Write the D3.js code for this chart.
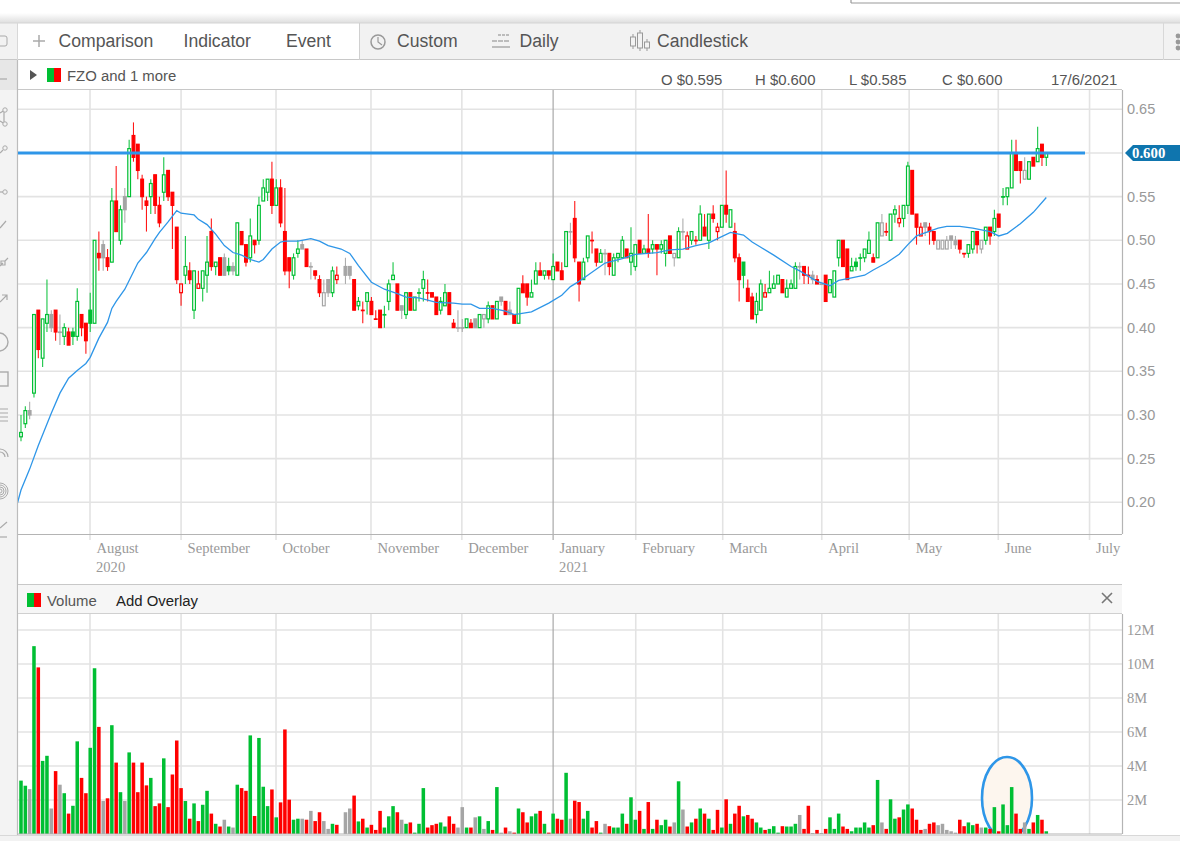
<!DOCTYPE html>
<html>
<head>
<meta charset="utf-8">
<script src="https://cdn.jsdelivr.net/npm/d3@7"></script>
<style>
body { margin: 0; background: #fff; }
svg { display: block; }
text { font-family: "Liberation Sans", Arial, sans-serif; }
.serif text, text.serif { font-family: "Liberation Serif", "Times New Roman", serif; }
</style>
</head>
<body>
<svg id="chart" width="1180" height="841"></svg>
<script>
// one letter per trading day: g = up on prior close, r = down, n = unchanged
var trend = "ggngrggnrn" + "grggrrggrn" + "rgrgngrrrr" + "grrgrrrrgr" + "grggrgrngn" + "grrgrgggrg" +
    "rrrggnrnrr" + "nngrnnnrgr" + "grrrgggrng" + "rgggrrrggr" + "rnngrngngr" + "gnrnrgrrgg" +
    "rgrgrrgnrr" + "ggrrgnrggg" + "rggrgrgrgg" + "rngnrgrgrg" + "rrgrgrrgrr" + "ggrgggrggg" +
    "nrrnrnrggg" + "rrgggggrgn" + "rggrggrrrn" + "rrnnnnnrrg" + "grngrgrggg" + "rrngrgrg";

var opens = [
    .275,.29,.305,.325,.42,.365,.405,.415,.42,.395, .39,.395,.395,.39,.415,.405,.42,.405,.485,.495,
    .48,.475,.545,.50,.55,.55,.62,.61,.57,.545, .55,.575,.54,.555,.58,.555,.515,.44,.46,.465,
    .42,.445,.445,.46,.51,.47,.48,.48,.47,.47, .46,.51,.495,.48,.50,.50,.545,.555,.57,.54,
    .56,.51,.48,.46,.485,.495,.49,.47,.465,.455, .425,.455,.44,.455,.46,.47,.47,.455,.425,.42,
    .43,.43,.41,.42,.415,.43,.455,.45,.425,.415, .44,.42,.44,.445,.44,.44,.435,.42,.425,.44,
    .405,.40,.40,.40,.405,.41,.40,.41,.41,.425, .41,.435,.43,.42,.415,.405,.45,.45,.435,.45,
    .465,.46,.465,.455,.475,.465,.47,.51,.525,.475, .455,.48,.50,.49,.475,.485,.485,.46,.48,.48,
    .49,.475,.47,.50,.485,.49,.49,.495,.49,.485, .505,.48,.48,.51,.49,.50,.50,.50,.515,.50,
    .53,.51,.515,.54,.515,.51,.48,.475,.445,.435, .415,.42,.435,.44,.445,.45,.455,.435,.445,.445,
    .47,.47,.46,.46,.455,.45,.46,.44,.435,.48, .50,.49,.465,.475,.48,.48,.485,.48,.48,.505,
    .51,.50,.53,.52,.525,.54,.58,.53,.505,.52, .515,.51,.49,.49,.49,.505,.50,.50,.485,.485,
    .49,.51,.49,.50,.515,.51,.53,.55,.55,.56, .60,.59,.57,.57,.595,.59,.61,.595
];
var highs = [
    .30,.31,.315,.415,.42,.41,.455,.42,.42,.415, .405,.40,.40,.445,.415,.405,.44,.50,.51,.50,
    .49,.56,.585,.54,.56,.615,.635,.61,.575,.55, .57,.575,.55,.595,.58,.555,.515,.45,.505,.475,
    .465,.465,.465,.505,.525,.475,.48,.485,.48,.475, .52,.51,.495,.525,.50,.55,.57,.57,.59,.57,
    .57,.56,.48,.485,.50,.50,.49,.475,.465,.46, .455,.455,.47,.47,.46,.48,.47,.455,.435,.43,
    .44,.435,.42,.42,.425,.455,.475,.45,.425,.44, .44,.435,.445,.465,.455,.44,.435,.435,.45,.44,
    .41,.42,.41,.41,.41,.41,.415,.415,.43,.425, .43,.435,.43,.43,.415,.445,.46,.45,.455,.475,
    .475,.465,.465,.485,.475,.475,.51,.52,.545,.475, .48,.505,.51,.49,.49,.49,.485,.485,.485,.505,
    .49,.515,.495,.50,.495,.53,.50,.495,.50,.50, .505,.485,.515,.525,.51,.51,.505,.54,.53,.53,
    .54,.52,.54,.58,.535,.52,.485,.475,.455,.44, .44,.455,.45,.465,.46,.46,.455,.455,.455,.475,
    .475,.47,.47,.465,.46,.45,.46,.455,.465,.50, .50,.49,.48,.48,.485,.49,.51,.485,.52,.53,
    .52,.53,.54,.54,.54,.59,.58,.53,.52,.52, .52,.51,.50,.50,.505,.505,.505,.50,.485,.495,
    .51,.51,.50,.515,.515,.535,.53,.56,.56,.615, .615,.59,.595,.59,.595,.63,.61,.60
];
var lows = [
    .27,.285,.295,.32,.365,.355,.395,.395,.385,.38, .38,.38,.38,.385,.39,.37,.395,.405,.465,.465,
    .465,.475,.51,.495,.52,.55,.59,.57,.535,.51, .53,.53,.515,.545,.545,.49,.45,.425,.45,.45,
    .41,.445,.43,.44,.465,.46,.46,.46,.46,.46, .46,.495,.47,.475,.485,.495,.545,.545,.53,.54,
    .515,.46,.445,.455,.48,.49,.47,.455,.455,.435, .425,.435,.435,.45,.46,.45,.455,.42,.42,.405,
    .415,.415,.41,.40,.40,.42,.455,.42,.41,.41, .42,.42,.43,.43,.43,.435,.415,.415,.425,.415,
    .40,.395,.395,.40,.40,.40,.40,.40,.405,.41, .41,.425,.415,.415,.405,.405,.44,.425,.435,.45,
    .46,.455,.455,.455,.465,.455,.47,.495,.475,.43, .455,.475,.485,.47,.475,.46,.46,.46,.475,.48,
    .48,.46,.465,.485,.485,.48,.485,.46,.485,.47, .485,.47,.48,.50,.49,.495,.495,.50,.505,.49,
    .52,.50,.515,.52,.515,.475,.43,.445,.43,.41, .405,.42,.435,.44,.445,.45,.44,.435,.445,.445,
    .455,.45,.45,.45,.45,.45,.43,.44,.435,.47, .47,.455,.465,.465,.465,.475,.485,.475,.48,.505,
    .505,.50,.52,.515,.515,.53,.53,.495,.505,.505, .495,.495,.49,.49,.49,.49,.49,.485,.48,.48,
    .485,.485,.485,.495,.495,.505,.515,.54,.54,.56, .58,.565,.57,.57,.585,.59,.585,.585
];
var closes = [
    .28,.305,.30,.415,.375,.41,.415,.40,.395,.395, .40,.38,.39,.43,.40,.385,.405,.50,.48,.48,
    .47,.545,.51,.535,.535,.605,.595,.58,.55,.54, .565,.54,.52,.575,.55,.54,.455,.45,.47,.455,
    .465,.45,.465,.475,.47,.475,.46,.46,.465,.465, .52,.495,.475,.505,.495,.54,.56,.57,.54,.56,
    .52,.465,.465,.48,.49,.49,.47,.47,.46,.44, .44,.44,.465,.46,.46,.46,.46,.42,.43,.42,
    .44,.415,.41,.40,.415,.45,.46,.42,.42,.44, .42,.435,.44,.455,.44,.435,.415,.43,.44,.415,
    .40,.40,.40,.41,.40,.40,.415,.415,.425,.41, .43,.43,.415,.415,.405,.445,.44,.435,.44,.465,
    .46,.465,.46,.47,.465,.455,.51,.51,.48,.45, .475,.505,.50,.475,.485,.485,.47,.48,.485,.50,
    .48,.485,.495,.485,.49,.485,.495,.49,.495,.50, .485,.485,.51,.51,.505,.51,.50,.53,.505,.53,
    .525,.515,.54,.53,.535,.48,.455,.46,.43,.41, .43,.45,.44,.445,.45,.46,.44,.445,.45,.47,
    .47,.46,.46,.455,.45,.45,.43,.455,.465,.50, .47,.455,.47,.47,.48,.49,.50,.475,.52,.52,
    .51,.53,.535,.525,.54,.585,.53,.515,.515,.515, .51,.50,.50,.50,.50,.50,.495,.49,.485,.495,
    .51,.495,.50,.515,.505,.525,.515,.55,.56,.60, .58,.58,.58,.59,.585,.605,.595,.60
];
// volume in millions of shares
var volumes = [
    3.14,2.84,2.64,11.05,9.8,4.3,4.6,1.5,3.7,2.9, 2.4,1.2,1.66,5.45,3.3,2.4,5.07,9.75,6.3,1.94,
    2.1,6.4,4.2,2.46,1.94,4.8,4.2,2.46,4.2,2.86, 3.3,1.64,1.8,4.45,1.58,3.5,5.5,2.7,1.94,.9,
    1.8,.76,1.72,2.54,1.2,.6,.44,.84,.44,.38, 2.9,2.7,2.54,5.8,1.06,5.65,2.78,1.64,2.62,.98,
    1.86,6.15,2.02,.84,.9,.9,.84,1.36,.76,1.28, .76,.3,.6,.54,0,1.28,1.5,2.26,.74,.9,
    .38,.54,.24,1.36,.38,1.04,1.64,1.28,.84,.6, .68,.08,.6,2.7,.38,.52,.6,.68,.44,1.04,
    .6,.38,1.58,.38,.38,.98,1.04,.3,.76,.24, 2.76,.08,.38,.16,.08,1.5,1.28,.68,1.04,1.2,
    1.36,.6,.08,1.2,.9,.84,3.6,.9,1.96,1.88, .9,1.36,.38,.76,.08,.6,.46,.38,.38,1.2,
    .6,2.16,.84,1.36,.3,1.88,.3,.84,.52,.84, .44,.68,3.1,1.44,.44,.68,.9,1.5,1.2,.9,
    .24,1.42,.38,2.04,.6,1.2,1.66,1.04,1.12,.9, .68,.38,.24,.3,.46,.08,.46,.44,.44,.6,
    1.12,.3,1.66,.06,.24,.06,.3,.98,.3,1.2, .44,.3,.16,.38,.38,.68,.38,.52,3.18,.68,
    .3,2.04,.9,.98,1.44,1.74,1.5,.84,.24,.3, .6,.68,.52,.6,.24,.16,.08,.84,.46,.68,
    .52,.6,.38,.38,.3,1.58,.16,1.74,.52,2.76, 1.2,.3,.68,.3,.68,1.12,.84,.16
];

// moving average at these candles
var avgIndex = [-1,0,2,4,7,9,11,13,15,16,18,20,21,22,24,25,27,29,31,32,34,36,37,40,41,43,45,47,49,51,53,55,56,58,60,61,64,67,69,71,74,76,78,81,84,87,89,92,96,100,102,104,106,109,112,114,118,122,125,127,129,131,135,139,142,147,150,153,156,159,161,164,167,169,171,174,178,180,184,187,189,192,195,197,200,203,205,207,212,214,217,220,224,226,228,231,234,237];
var avgValue = [.196,.214,.238,.265,.302,.325,.342,.351,.359,.366,.388,.406,.422,.430,.444,.454,.474,.486,.502,.509,.521,.534,.531,.529,.524,.518,.507,.494,.486,.483,.478,.475,.478,.490,.498,.499,.499,.502,.499,.494,.490,.485,.471,.452,.444,.439,.435,.434,.429,.428,.427,.427,.422,.422,.419,.415,.418,.428,.437,.447,.453,.460,.474,.479,.484,.486,.489,.490,.494,.497,.502,.509,.506,.498,.492,.483,.470,.465,.453,.448,.454,.457,.460,.466,.474,.484,.495,.505,.514,.516,.516,.514,.510,.505,.508,.519,.532,.549];

var monthNames = ["August","September","October","November","December","January","February","March","April","May","June","July"];
var monthIndex = [15.95,37,58.95,80.9,101.9,123,142.1,162.2,185.1,205.3,225.9,247];
var yearLabels = {August: "2020", January: "2021"};
var priceTicks = [.20,.25,.30,.35,.40,.45,.50,.55,.60,.65];
var volumeTicks = [2,4,6,8,10,12];
var level = 0.6;

var colors = {g: "#00bf33", r: "#ff0000", n: "#a5a5a5"};
var blue = "#2e96e8";

var candles = d3.range(closes.length).map(function(i) {
    return {i: i, o: opens[i], h: highs[i], l: lows[i], c: closes[i], v: volumes[i], t: trend[i]};
}).filter(function(d) { return d.v > 0; });

var svg = d3.select("#chart");
var left = 18, right = 1122;

var x = d3.scaleLinear().domain([0, 237]).range([21, 1046.3]);
var y = d3.scaleLinear().domain([.20, .65]).range([502.3, 109.3]);
var yVol = d3.scaleLinear().domain([0, 12]).range([834, 630]);

// page chrome behind the chart
function box(bx, by, w, h, fill) {
    return svg.append("rect").attr("x", bx).attr("y", by).attr("width", w).attr("height", h).attr("fill", fill);
}
function hline(x1, x2, yy, color, w) {
    return svg.append("line").attr("x1", x1).attr("x2", x2).attr("y1", yy).attr("y2", yy)
        .attr("stroke", color).attr("stroke-width", w || 1);
}
function vline(xx, y1, y2, color, w) {
    return svg.append("line").attr("x1", xx).attr("x2", xx).attr("y1", y1).attr("y2", y2)
        .attr("stroke", color).attr("stroke-width", w || 1);
}
function label(tx, ty, s, size, color) {
    return svg.append("text").attr("x", tx).attr("y", ty).attr("font-size", size).attr("fill", color || "#555").text(s);
}

var shadow = svg.append("defs").append("linearGradient").attr("id", "shade")
    .attr("x1", 0).attr("x2", 0).attr("y1", 0).attr("y2", 1);
shadow.append("stop").attr("offset", 0).attr("stop-color", "#fff");
shadow.append("stop").attr("offset", 1).attr("stop-color", "#dedede");
box(0, 13, 1180, 10, "url(#shade)");
hline(851, 1180, 3, "#999", 1.2);
vline(851, 0, 3, "#999", 1.2);

box(0, 23, 1180, 37, "#f2f2f2");
box(18, 23, 341, 37, "#fff");
hline(0, 1180, 23, "#d4d4d4");
hline(0, 1180, 59.5, "#c8c8c8");
vline(359.5, 23, 60, "#d0d0d0");
vline(1163.5, 23, 60, "#d8d8d8");
vline(17.5, 23, 60, "#d8d8d8");

box(0, 60, 17, 775, "#f3f3f3");
box(0, 60, 17, 30, "#e7e7e7");
box(0, 835, 1180, 6, "#f2f2f2");
hline(0, 1180, 835.5, "#d8d8d8", 1);

label(58.5, 47, "Comparison", 17.6);
label(183.5, 47, "Indicator", 17.6);
label(286, 47, "Event", 17.6);
label(397, 47, "Custom", 17.6);
label(519.5, 47, "Daily", 17.6);
label(657, 47, "Candlestick", 17.6);

// toolbar icons
hline(33, 45, 41, "#aaa", 1.5);
vline(39, 35, 47, "#aaa", 1.5);
svg.append("circle").attr("cx", 378).attr("cy", 42).attr("r", 7).attr("fill", "none").attr("stroke", "#999").attr("stroke-width", 1.5);
svg.append("path").attr("d", "M378 37V42L382 45").attr("fill", "none").attr("stroke", "#999").attr("stroke-width", 1.2);
hline(498, 510, 35, "#aaa", 1.5).attr("stroke-dasharray", "3 1");
hline(492, 510, 41, "#aaa", 1.5).attr("stroke-dasharray", "5 1");
hline(492, 510, 47, "#aaa", 1.5);
[[633, 37, 9], [640, 33, 15], [647, 42, 6]].forEach(function(b) {
    vline(b[0], b[1] - 3, b[1] + b[2] + 3, "#999");
    svg.append("rect").attr("x", b[0] - 2.5).attr("y", b[1]).attr("width", 5).attr("height", b[2])
        .attr("fill", "#f2f2f2").attr("stroke", "#999");
});
[36, 42, 48].forEach(function(cy) {
    svg.append("circle").attr("cx", 1178).attr("cy", cy).attr("r", 2.4).attr("fill", "#999");
});
svg.append("rect").attr("x", -4).attr("y", 36).attr("width", 11).attr("height", 10).attr("rx", 2)
    .attr("fill", "none").attr("stroke", "#aaa");

// sidebar icons, cut off at the left edge like the screenshot
var sideStroke = "#aaa";
function sidePath(d) { svg.append("path").attr("d", d).attr("fill", "none").attr("stroke", sideStroke).attr("stroke-width", 1.2); }
sidePath("M0 79H7");
sidePath("M0 113L5 110M0 121L5 124M4 112V122");
svg.append("circle").attr("cx", 5).attr("cy", 110).attr("r", 2.2).attr("fill", "#f3f3f3").attr("stroke", sideStroke);
svg.append("circle").attr("cx", 5).attr("cy", 124).attr("r", 2.2).attr("fill", "#f3f3f3").attr("stroke", sideStroke);
svg.append("circle").attr("cx", 5).attr("cy", 148).attr("r", 2.2).attr("fill", "#f3f3f3").attr("stroke", sideStroke);
sidePath("M0 153L3 150");
svg.append("circle").attr("cx", 5).attr("cy", 192).attr("r", 2.2).attr("fill", "#f3f3f3").attr("stroke", sideStroke);
sidePath("M0 192H3");
sidePath("M0 228L6 221");
sidePath("M0 266L3 263M1 261h4v4h-4zM5 261L8 258");
sidePath("M0 302L7 295M2 295H7V300");
svg.append("circle").attr("cx", -1).attr("cy", 342).attr("r", 9).attr("fill", "none").attr("stroke", sideStroke).attr("stroke-width", 1.4);
svg.append("rect").attr("x", -3).attr("y", 372).attr("width", 11).attr("height", 14).attr("fill", "none").attr("stroke", sideStroke).attr("stroke-width", 1.4);
sidePath("M0 409H8M0 413H8M0 417H8M0 421H8");
sidePath("M0 449A8 8 0 0 1 8 457M0 452A5 5 0 0 1 5 457");
[8, 6, 4, 2].forEach(function(r) {
    svg.append("circle").attr("cx", 0).attr("cy", 491).attr("r", r).attr("fill", "none").attr("stroke", sideStroke);
});
sidePath("M0 528L7 522");
sidePath("M0 537H7");

// header strip above the chart
hline(18, right, 89.5, "#c8c8c8");
svg.append("path").attr("d", "M30 70L37 75L30 80Z").attr("fill", "#555");
box(47, 68, 7, 14, colors.g);
box(54, 68, 7, 14, colors.r);
label(67, 81, "FZO and 1 more", 14.9);
label(661, 85, "O $0.595", 14.9);
label(755, 85, "H $0.600", 14.9);
label(849, 85, "L $0.585", 14.9);
label(942, 85, "C $0.600", 14.9);
label(1051, 85, "17/6/2021", 14.9);

// price pane grid
var gridColor = "#e3e3e3";
svg.append("g").selectAll("line").data(priceTicks).join("line")
    .attr("x1", left).attr("x2", right).attr("y1", y).attr("y2", y)
    .attr("stroke", gridColor).attr("stroke-width", 1.6);
svg.append("g").selectAll("line").data(monthIndex).join("line")
    .attr("x1", x).attr("x2", x).attr("y1", 90).attr("y2", 540)
    .attr("stroke", function(d) { return d === 123 ? "#a9a9a9" : gridColor; })
    .attr("stroke-width", function(d) { return d === 123 ? 1.2 : 1.6; });

// right hand price axis, the tag below takes the place of the 0.60 label
var priceAxis = svg.append("g").attr("transform", "translate(" + right + ",0)")
    .call(d3.axisRight(y).tickValues(priceTicks.filter(function(d) { return d !== level; }))
        .tickFormat(d3.format(".2f")).tickSize(0).tickPadding(5));
priceAxis.select(".domain").remove();
priceAxis.selectAll("text").attr("font-size", 14.5).attr("fill", "#999").attr("font-family", "Liberation Sans");

// month axis
var monthAxis = svg.append("g").attr("class", "serif").attr("transform", "translate(0,534)")
    .call(d3.axisBottom(x).tickValues(monthIndex)
        .tickFormat(function(d) { return monthNames[monthIndex.indexOf(d)]; }).tickSize(0).tickPadding(9));
monthAxis.select(".domain").remove();
monthAxis.selectAll("text").attr("font-size", 14.6).attr("fill", "#999").attr("text-anchor", "start").attr("dx", 6);
monthNames.forEach(function(m, i) {
    if (yearLabels[m]) {
        svg.append("text").attr("class", "serif").attr("x", x(monthIndex[i]) + 6).attr("y", 572)
            .attr("font-size", 14.6).attr("fill", "#999").text(yearLabels[m]);
    }
});
hline(left, right, 534.5, "#b4b4b4", 1.2);
vline(right + .5, 90, 534, "#b4b4b4", 1.2);
vline(17.5, 60, 835, "#bcbcbc", 1.2);

// moving average over the candles
var avgLine = d3.line()
    .x(function(d, i) { return x(avgIndex[i]); })
    .y(function(d) { return y(d); });
svg.append("clipPath").attr("id", "plotClip").append("rect")
    .attr("x", left).attr("y", 90).attr("width", right - left).attr("height", 444);

// candles
var bodyW = x(1) - x(0) - 1.6;
var plot = svg.append("g").attr("clip-path", "url(#plotClip)");
plot.selectAll(".wick").data(candles).join("line").attr("class", "wick")
    .attr("x1", function(d) { return x(d.i); }).attr("x2", function(d) { return x(d.i); })
    .attr("y1", function(d) { return y(d.h); }).attr("y2", function(d) { return y(d.l); })
    .attr("stroke", function(d) { return colors[d.t]; }).attr("stroke-width", 1.1).attr("opacity", .9);
plot.selectAll(".body").data(candles).join("rect").attr("class", "body")
    .attr("x", function(d) { return x(d.i) - bodyW / 2; })
    .attr("width", bodyW)
    .attr("y", function(d) { return y(Math.max(d.o, d.c)); })
    .attr("height", function(d) { return Math.max(.5, Math.abs(y(d.o) - y(d.c))); })
    .attr("fill", function(d) { return d.c > d.o ? "#fff" : colors[d.t]; })
    .attr("stroke", function(d) { return colors[d.t]; })
    .attr("stroke-width", 1.2);

plot.append("path").datum(avgValue).attr("d", avgLine)
    .attr("fill", "none").attr("stroke", blue).attr("stroke-width", 1.3);

// horizontal line drawn at the last price
var levelY = y(level);
hline(left, 1085, levelY, blue, 3);
svg.append("path")
    .attr("d", "M1125 " + levelY + "L1133 " + (levelY - 8) + "H1180V" + (levelY + 8) + "H1133Z")
    .attr("fill", "#0f75ae");
svg.append("text").attr("class", "serif").attr("x", 1132).attr("y", levelY + 5)
    .attr("font-size", 14.8).attr("font-weight", "bold").attr("fill", "#fff").text(d3.format(".3f")(level));

// volume pane
hline(left, right, 584.5, "#c8c8c8");
box(18, 585, right - 18, 28, "#f6f6f6");
hline(left, right, 613.5, "#d0d0d0");
box(27, 593, 7, 14, colors.g);
box(34, 593, 7, 14, colors.r);
label(47, 606, "Volume", 14.9);
label(116, 606, "Add Overlay", 14.9, "#222");
svg.append("path").attr("d", "M1102 593L1112 603M1112 593L1102 603").attr("stroke", "#777").attr("stroke-width", 1.6);

svg.append("g").selectAll("line").data(volumeTicks).join("line")
    .attr("x1", left).attr("x2", right).attr("y1", yVol).attr("y2", yVol)
    .attr("stroke", gridColor).attr("stroke-width", 1.6);
svg.append("g").selectAll("line").data(monthIndex).join("line")
    .attr("x1", x).attr("x2", x).attr("y1", 614).attr("y2", 834)
    .attr("stroke", function(d) { return d === 123 ? "#a9a9a9" : gridColor; })
    .attr("stroke-width", function(d) { return d === 123 ? 1.2 : 1.6; });

var volAxis = svg.append("g").attr("class", "serif").attr("transform", "translate(" + right + ",0)")
    .call(d3.axisRight(yVol).tickValues(volumeTicks).tickFormat(function(d) { return d + "M"; }).tickSize(0).tickPadding(5));
volAxis.select(".domain").remove();
volAxis.selectAll("text").attr("font-size", 14.5).attr("fill", "#999");

// hand drawn circle around the recent volume
svg.append("clipPath").attr("id", "volClip").append("rect")
    .attr("x", left).attr("y", 614).attr("width", right - left).attr("height", 220);
svg.append("ellipse").attr("clip-path", "url(#volClip)")
    .attr("cx", 1007).attr("cy", 798).attr("rx", 25).attr("ry", 41)
    .attr("fill", "#fdf6ee").attr("stroke", blue).attr("stroke-width", 2.6);

svg.append("g").selectAll("rect").data(candles).join("rect")
    .attr("x", function(d) { return x(d.i) - bodyW / 2 - .4; })
    .attr("width", bodyW + .8)
    .attr("y", function(d) { return yVol(d.v); })
    .attr("height", function(d) { return yVol(0) - yVol(d.v); })
    .attr("fill", function(d) { return colors[d.t]; });

hline(left, right, 834, "#b4b4b4", 1.2);
vline(right + .5, 614, 834, "#b4b4b4", 1.2);
</script>
</body>
</html>
